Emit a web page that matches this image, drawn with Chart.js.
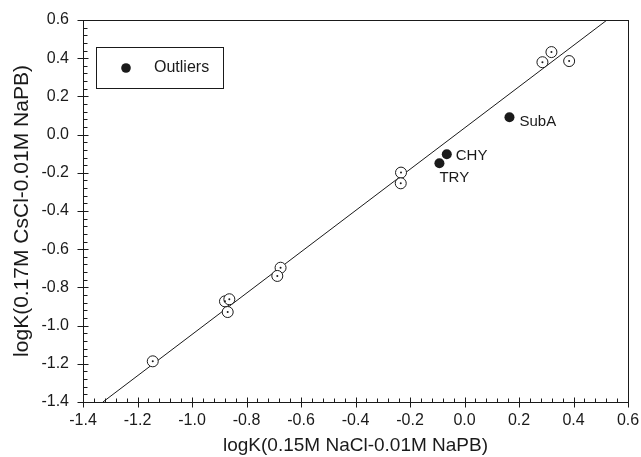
<!DOCTYPE html>
<html>
<head>
<meta charset="utf-8">
<script src="https://cdn.jsdelivr.net/npm/chart.js@4/dist/chart.umd.min.js"></script>
<style>
html,body{margin:0;padding:0;background:#fff;}
#wrap{width:641px;height:457px;}
</style>
</head>
<body>
<div id="wrap"><canvas id="c" width="641" height="457"></canvas></div>
<script>
// ---- data ----
const fitX = [-1.327, 0.523];
const fitY = [-1.4, 0.6];
const openX = [-1.144, -0.879, -0.863, -0.869, -0.675, -0.687, -0.233, -0.234, 0.286, 0.319, 0.384];
const openY = [-1.187, -0.873, -0.862, -0.929, -0.697, -0.740, -0.199, -0.255, 0.379, 0.432, 0.385];
const outX = [0.165, -0.065, -0.092];
const outY = [0.091, -0.103, -0.150];
const outNames = ['SubA', 'CHY', 'TRY'];
const xTitle = 'logK(0.15M NaCl-0.01M NaPB)';
const yTitle = 'logK(0.17M CsCl-0.01M NaPB)';
const legendLabel = 'Outliers';

const pts = (xs, ys) => xs.map((x, i) => ({x: x, y: ys[i]}));
const FONT = "'Liberation Sans', Arial, Helvetica, sans-serif";
const INK = '#1a1a1a';

const framePlugin = {
  id: 'frame',
  afterDraw(chart) {
    const ctx = chart.ctx, a = chart.chartArea;
    const xs = chart.scales.x, ys = chart.scales.y;
    ctx.save();
    ctx.strokeStyle = INK;
    ctx.lineWidth = 1;
    // frame
    ctx.strokeRect(Math.round(a.left) + 0.5, Math.round(a.top) + 0.5,
                   Math.round(a.right - a.left), Math.round(a.bottom - a.top));
    ctx.beginPath();
    // x ticks
    for (let i = 0; i <= 50; i++) {
      const v = -1.4 + i * 0.04;
      const px = Math.round(xs.getPixelForValue(v)) + 0.5;
      const by = Math.round(a.bottom) + 0.5;
      if (i % 5 === 0) { ctx.moveTo(px, by + 5); ctx.lineTo(px, by - 5); }
      else { ctx.moveTo(px, by); ctx.lineTo(px, by - 4); }
    }
    // y ticks
    for (let i = 0; i <= 50; i++) {
      const v = -1.4 + i * 0.04;
      const py = Math.round(ys.getPixelForValue(v)) + 0.5;
      const lx = Math.round(a.left) + 0.5;
      if (i % 5 === 0) { ctx.moveTo(lx - 6, py); ctx.lineTo(lx + 5, py); }
      else { ctx.moveTo(lx, py); ctx.lineTo(lx + 4, py); }
    }
    ctx.stroke();

    // outlier labels
    ctx.fillStyle = INK;
    ctx.font = '15px ' + FONT;
    ctx.textBaseline = 'middle';
    ctx.textAlign = 'left';
    const offs = [[10, 5], [9, 2], [0, 15]];
    outNames.forEach((n, i) => {
      const px = xs.getPixelForValue(outX[i]);
      const py = ys.getPixelForValue(outY[i]);
      ctx.fillText(n, px + offs[i][0], py + offs[i][1]);
    });

    // legend box
    const lx0 = a.left + 13, ly0 = a.top + 27;
    ctx.strokeRect(lx0 + 0.5, ly0 + 0.5, 127, 41);
    ctx.beginPath();
    ctx.arc(lx0 + 30, ly0 + 21, 4.8, 0, Math.PI * 2);
    ctx.fill();
    ctx.font = '16px ' + FONT;
    ctx.fillText(legendLabel, lx0 + 58, ly0 + 21);
    ctx.restore();
  }
};

new Chart(document.getElementById('c'), {
  data: {
    datasets: [
      {
        type: 'line',
        label: 'fit',
        data: pts(fitX, fitY),
        borderColor: INK,
        borderWidth: 1,
        pointRadius: 0,
        fill: false,
        order: 3
      },
      {
        type: 'scatter',
        label: 'data',
        data: pts(openX, openY),
        backgroundColor: '#ffffff',
        borderColor: INK,
        borderWidth: 1,
        pointRadius: 5.5,
        order: 2
      },
      {
        type: 'scatter',
        label: 'data-centre',
        data: pts(openX, openY),
        backgroundColor: INK,
        borderWidth: 0,
        pointRadius: 1,
        order: 1
      },
      {
        type: 'scatter',
        label: legendLabel,
        data: pts(outX, outY),
        backgroundColor: INK,
        borderWidth: 0,
        pointRadius: 5,
        order: 0
      }
    ]
  },
  options: {
    responsive: false,
    animation: false,
    devicePixelRatio: 1,
    layout: {padding: {top: 20, right: 13, left: 0, bottom: 0}},
    plugins: {legend: {display: false}, tooltip: {enabled: false}},
    scales: {
      x: {
        type: 'linear', min: -1.4, max: 0.6,
        grid: {display: false, drawTicks: false},
        border: {display: false},
        ticks: {
          stepSize: 0.2, padding: 9, color: INK,
          font: {family: FONT, size: 16},
          callback: v => v.toFixed(1)
        },
        title: {display: true, text: xTitle, color: INK,
                font: {family: FONT, size: 19}, padding: {top: 2, bottom: 0}},
        afterFit(s) { s.height = 55; s.paddingLeft = 0; s.paddingRight = 0; }
      },
      y: {
        type: 'linear', min: -1.4, max: 0.6,
        grid: {display: false, drawTicks: false},
        border: {display: false},
        ticks: {
          stepSize: 0.2, padding: 14, color: INK,
          font: {family: FONT, size: 16},
          callback: v => v.toFixed(1)
        },
        title: {display: true, text: yTitle, color: INK,
                font: {family: FONT, size: 21}, padding: {top: 10, bottom: 0}},
        afterFit(s) { s.width = 83; s.paddingTop = 0; s.paddingBottom = 0; }
      }
    }
  },
  plugins: [framePlugin]
});
</script>
</body>
</html>
